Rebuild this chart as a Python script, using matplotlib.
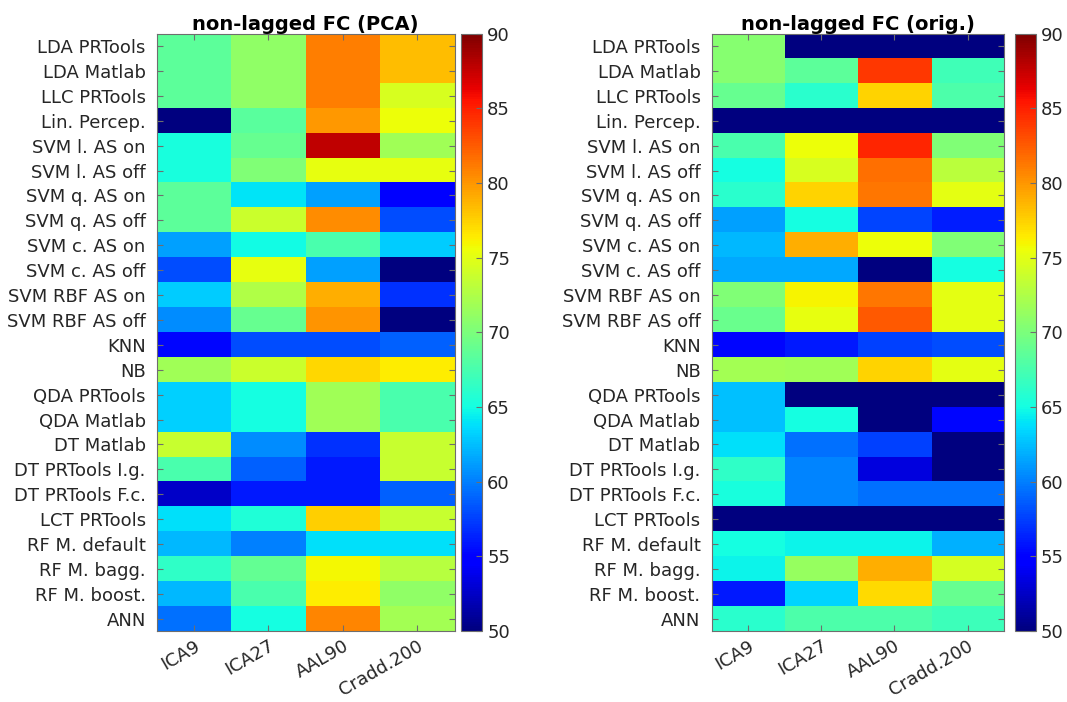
import numpy as np
import matplotlib
matplotlib.use('Agg')
import matplotlib.pyplot as plt
import matplotlib.transforms as mtrans

# classifiers (rows) and parcellations (columns)
classifiers = ['LDA PRTools', 'LDA Matlab', 'LLC PRTools', 'Lin. Percep.',
               'SVM l. AS on', 'SVM l. AS off', 'SVM q. AS on', 'SVM q. AS off',
               'SVM c. AS on', 'SVM c. AS off', 'SVM RBF AS on', 'SVM RBF AS off',
               'KNN', 'NB', 'QDA PRTools', 'QDA Matlab', 'DT Matlab',
               'DT PRTools I.g.', 'DT PRTools F.c.', 'LCT PRTools',
               'RF M. default', 'RF M. bagg.', 'RF M. boost.', 'ANN']
atlases = ['ICA9', 'ICA27', 'AAL90', 'Cradd.200']

# accuracy (%) with PCA-reduced features
acc_pca = [
    [68.5, 71.0, 81.0, 78.3],
    [68.5, 71.0, 81.0, 78.3],
    [68.5, 71.0, 81.0, 74.4],
    [50.0, 68.3, 79.9, 75.6],
    [65.2, 69.0, 87.8, 71.8],
    [65.2, 70.2, 75.2, 75.2],
    [68.5, 64.0, 61.3, 54.7],
    [68.5, 73.9, 80.4, 58.1],
    [61.3, 64.9, 67.5, 63.0],
    [58.1, 75.3, 61.3, 50.0],
    [63.0, 72.6, 79.0, 56.9],
    [60.6, 69.0, 80.0, 50.0],
    [55.3, 58.1, 58.1, 58.8],
    [71.8, 73.9, 77.2, 76.4],
    [63.2, 65.0, 71.8, 67.6],
    [63.2, 65.0, 71.8, 67.6],
    [73.7, 60.6, 56.9, 73.7],
    [67.5, 58.8, 56.0, 73.7],
    [52.6, 56.0, 56.0, 58.8],
    [63.8, 65.6, 77.6, 73.7],
    [62.2, 60.0, 63.8, 63.8],
    [66.4, 68.8, 75.8, 72.9],
    [62.2, 67.6, 76.4, 71.0],
    [59.4, 65.0, 80.7, 72.0],
]

# accuracy (%) with the original features
acc_orig = [
    [70.6, 50.0, 50.0, 50.0],
    [70.6, 68.5, 84.0, 67.1],
    [69.0, 66.0, 77.4, 67.8],
    [50.0, 50.0, 50.0, 50.0],
    [67.6, 75.6, 84.7, 70.2],
    [65.0, 74.4, 81.6, 73.0],
    [66.0, 77.4, 81.3, 75.0],
    [61.3, 65.0, 57.8, 56.2],
    [62.2, 79.0, 75.6, 70.2],
    [61.6, 61.6, 50.0, 65.0],
    [70.2, 76.0, 81.3, 75.0],
    [69.2, 75.2, 82.6, 75.0],
    [55.3, 56.0, 57.5, 58.1],
    [72.0, 71.8, 77.4, 75.0],
    [62.6, 50.0, 50.0, 50.0],
    [62.6, 65.0, 50.0, 55.2],
    [63.8, 59.4, 57.5, 50.0],
    [66.4, 60.3, 53.4, 50.0],
    [65.3, 60.3, 59.4, 59.4],
    [50.0, 50.0, 50.0, 50.0],
    [65.0, 64.6, 64.6, 61.9],
    [64.6, 71.3, 79.0, 74.3],
    [56.0, 63.4, 77.1, 69.0],
    [66.0, 67.7, 67.7, 67.0],
]

titles = ['non-lagged FC (PCA)', 'non-lagged FC (orig.)']

txt = '#262626'
edge = '#6e6e6e'
fs = 13

fig = plt.figure(figsize=(10.67, 7.02), dpi=100)

panels = [
    (acc_pca, [0.147, 0.101, 0.279, 0.851], [0.432, 0.101, 0.020, 0.851]),
    (acc_orig, [0.667, 0.101, 0.274, 0.851], [0.951, 0.101, 0.020, 0.851]),
]

# nudge the rotated x labels a little to the right
shift = mtrans.ScaledTranslation(0.07, 0, fig.dpi_scale_trans)

for (vals, ax_rect, cb_rect), title in zip(panels, titles):
    ax = fig.add_axes(ax_rect)
    im = ax.imshow(np.array(vals), cmap='jet', vmin=50, vmax=90,
                   aspect='auto', interpolation='nearest')
    ax.set_yticks(range(len(classifiers)))
    ax.set_yticklabels(classifiers, fontsize=fs, color=txt)
    ax.set_xticks(range(len(atlases)))
    ax.set_xticklabels(atlases, fontsize=fs, color=txt, rotation=30,
                       ha='right', rotation_mode='anchor')
    for lab in ax.get_xticklabels():
        lab.set_transform(lab.get_transform() + shift)
    ax.tick_params(direction='in', top=True, right=True, length=4,
                   color=edge, width=0.8)
    ax.tick_params(axis='y', pad=8)
    ax.tick_params(axis='x', pad=4)
    for sp in ax.spines.values():
        sp.set_color(edge)
    ax.set_title(title, fontsize=14, fontweight='bold', pad=3)

    cax = fig.add_axes(cb_rect)
    cb = fig.colorbar(im, cax=cax, ticks=np.arange(50, 91, 5))
    cb.ax.tick_params(labelsize=fs, labelcolor=txt, direction='in',
                      color=edge, length=4)
    cb.outline.set_edgecolor(edge)

plt.savefig('out.png', dpi=100)
